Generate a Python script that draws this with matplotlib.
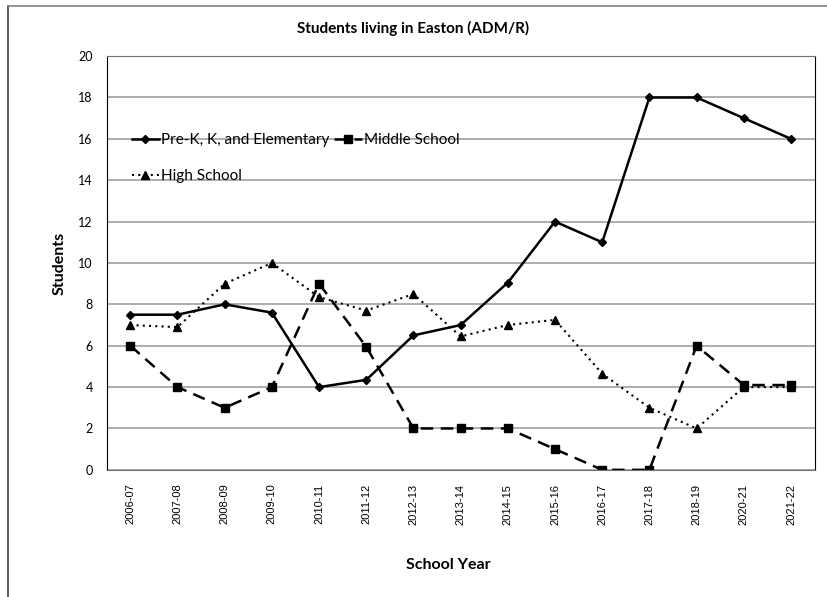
import numpy as np
import matplotlib.pyplot as plt
from matplotlib.lines import Line2D

# Datos
years = ['2006-07', '2007-08', '2008-09', '2009-10', '2010-11', '2011-12', '2012-13',
         '2013-14', '2014-15', '2015-16', '2016-17', '2017-18', '2018-19', '2020-21', '2021-22']
elementary = [7.5, 7.5, 8, 7.6, 4, 4.35, 6.5, 7, 9.05, 12, 11, 18, 18, 17, 16]
middle = [6, 4, 3, 4, 9, 5.95, 2, 2, 2, 1, 0, 0, 6, 4.1, 4.1]
high = [7, 6.9, 9, 10, 8.35, 7.7, 8.5, 6.45, 7, 7.25, 4.65, 3, 2, 4, 4]

fig = plt.figure(figsize=(8.27, 5.97), dpi=100)
ax = fig.add_axes([0.129, 0.213, 0.856, 0.693])

x = np.arange(len(years))
l1, = ax.plot(x, elementary, color='black', lw=1.8, marker='D', ms=4.5,
              label='Pre-K, K, and Elementary')
l2, = ax.plot(x, middle, color='black', lw=1.8, ls=(0, (5, 3)), marker='s', ms=5.5,
              label='Middle School')
l3, = ax.plot(x, high, color='black', lw=1.5, ls=(0, (1, 2)), marker='^', ms=5.5,
              label='High School')

ax.set_xlim(-0.5, len(years) - 0.5)
ax.set_ylim(0, 20)
ax.set_yticks(np.arange(0, 21, 2))
ax.set_xticks(x)
ax.set_xticklabels(years, rotation=90, fontsize=8, family='Liberation Sans')
ax.tick_params(axis='y', labelsize=9, length=0, pad=10)
ax.tick_params(axis='x', length=0, pad=10)
for lab in ax.get_yticklabels():
    lab.set_family('Lato')
ax.grid(axis='y', color='#a0a0a0', lw=1.2)
ax.set_axisbelow(True)
for s in ['top', 'bottom']:
    ax.spines[s].set_color('#707070')
for s in ['left', 'right']:
    ax.spines[s].set_color('black')

ax.set_ylabel('Students', fontsize=11.5, fontweight='bold', family='Lato', labelpad=8)
fig.text(0.542, 0.053, 'School Year', ha='center', va='center',
         fontsize=11.5, fontweight='bold', family='Lato')
fig.text(0.5, 0.953, 'Students living in Easton (ADM/R)', ha='center', va='center',
         fontsize=11, fontweight='bold', family='Lato')

leg = ax.legend(handles=[l1, l3, l2], ncol=2, loc='upper left',
                bbox_to_anchor=(0.02, 0.84), frameon=False,
                handlelength=1.8, handletextpad=0.15, columnspacing=0.3,
                labelspacing=1.45, borderaxespad=0.3,
                prop={'family': 'Lato', 'size': 11})

# Borde exterior
fig.add_artist(Line2D([0.01, 0.01], [0.0, 0.99], color='#404040', lw=1.2))
fig.add_artist(Line2D([0.01, 1.0], [0.99, 0.99], color='#808080', lw=1.2))

fig.savefig('out.png', dpi=100)
